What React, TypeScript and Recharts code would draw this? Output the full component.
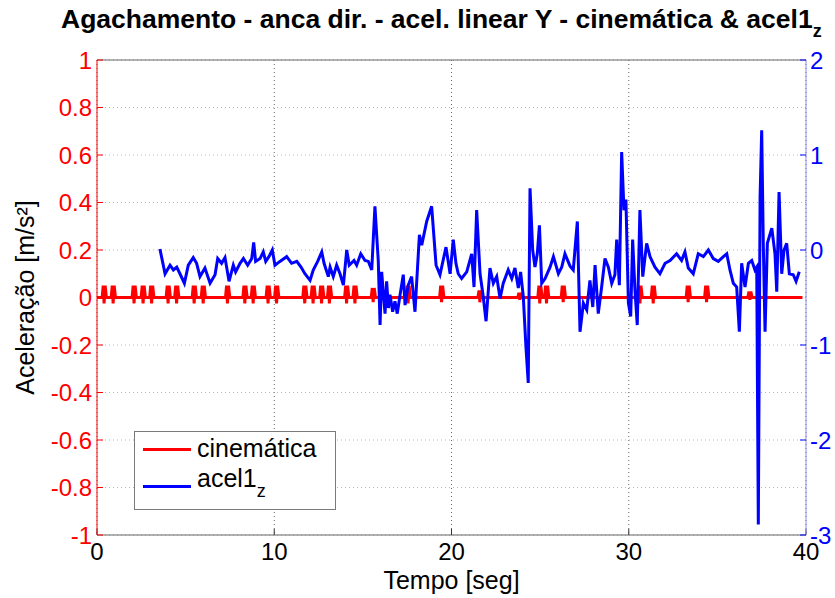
import { CartesianGrid, Legend, Line, LineChart, XAxis, YAxis } from 'recharts';

const FONT = '"Liberation Sans", Arial, Helvetica, sans-serif';

const xTicks = [0, 10, 20, 30, 40];
const leftTicks = [-1, -0.8, -0.6, -0.4, -0.2, 0, 0.2, 0.4, 0.6, 0.8, 1];
const rightTicks = [-3, -2, -1, 0, 1, 2];

// cinematica: flat at zero with short bursts (time, peak, dip)
const cinSpikeTime = [
  0.41, 0.92, 2.1, 2.61, 3.09, 4.02, 4.5, 5.49, 6.0, 7.37, 8.35, 8.82, 9.66, 10.14, 11.73, 12.2, 12.68, 13.12,
  14.09, 14.56, 15.59, 17.56, 19.45, 21.61, 23.86, 24.99, 25.37, 26.31, 30.64, 31.39, 33.36, 34.4, 36.84,
];
const cinSpikePeak = [
  0.05, 0.05, 0.05, 0.05, 0.05, 0.05, 0.05, 0.05, 0.05, 0.05, 0.05, 0.05, 0.05, 0.05, 0.05, 0.05, 0.05, 0.05,
  0.05, 0.05, 0.04, 0.05, 0.05, 0.03, 0.02, 0.05, 0.05, 0.05, 0.05, 0.05, 0.05, 0.05, 0.025,
];
const cinSpikeDip = [
  0.025, 0.025, 0.025, 0.025, 0.025, 0.025, 0.025, 0.025, 0.025, 0.025, 0.025, 0.025, 0.025, 0.025, 0.025, 0.025,
  0.025, 0.025, 0.025, 0.025, 0.02, 0.025, 0.02, 0.02, 0.01, 0.025, 0.025, 0.02, 0.025, 0.025, 0.02, 0.02, 0.01,
];
const cinEnd = 39.8;

// acel1z (right axis)
const accTime = [
  3.55, 3.84, 4.12, 4.31, 4.5, 4.68, 4.93, 5.15, 5.43, 5.62, 5.81, 6.09, 6.38, 6.66, 6.81, 7.03, 7.22, 7.45, 7.69,
  7.82, 8.07, 8.26, 8.5, 8.73, 8.84, 8.95, 9.2, 9.38, 9.52, 9.7, 9.89, 10.04, 10.32, 10.7, 10.98, 11.27, 11.51,
  11.73, 12.02, 12.2, 12.45, 12.68, 12.81, 13.05, 13.15, 13.33, 13.52, 13.71, 13.9, 14.09, 14.23, 14.5, 14.65,
  14.88, 15.12, 15.31, 15.5, 15.68, 15.87, 15.97, 16.06, 16.15, 16.25, 16.34, 16.44, 16.53, 16.68, 16.81, 16.94,
  17.1, 17.28, 17.38, 17.56, 17.75, 17.94, 18.19, 18.32, 18.6, 18.88, 19.13, 19.35, 19.69, 19.92, 20.1, 20.25,
  20.38, 20.57, 20.86, 21.14, 21.27, 21.42, 21.61, 21.79, 21.95, 22.17, 22.36, 22.55, 22.74, 22.92, 23.2, 23.4,
  23.58, 23.77, 23.9, 24.05, 24.2, 24.33, 24.43, 24.58, 24.71, 24.84, 24.96, 25.09, 25.28, 25.56, 25.75, 26.03,
  26.22, 26.4, 26.69, 26.87, 27.1, 27.25, 27.44, 27.63, 27.81, 27.97, 28.1, 28.28, 28.47, 28.66, 28.85, 29.04,
  29.22, 29.32, 29.47, 29.6, 29.73, 29.84, 29.98, 30.11, 30.22, 30.35, 30.48, 30.63, 30.79, 31.01, 31.2, 31.48,
  31.76, 32.05, 32.33, 32.7, 32.98, 33.17, 33.36, 33.64, 33.92, 34.21, 34.49, 34.77, 35.05, 35.34, 35.53, 35.71,
  35.9, 36.09, 36.24, 36.37, 36.56, 36.75, 36.94, 37.12, 37.22, 37.31, 37.41, 37.5, 37.59, 37.69, 37.82, 38.07,
  38.25, 38.35, 38.48, 38.63, 38.76, 38.91, 39.06, 39.28, 39.44, 39.62,
];
const accValue = [
  0.01, -0.25, -0.16, -0.21, -0.18, -0.25, -0.35, -0.16, -0.08, -0.14, -0.28, -0.19, -0.35, -0.26, -0.09, -0.14,
  -0.08, -0.33, -0.16, -0.23, -0.14, -0.09, -0.16, -0.09, 0.08, -0.12, -0.09, -0.02, -0.12, -0.07, 0.0, -0.16,
  -0.12, -0.07, -0.14, -0.12, -0.18, -0.25, -0.32, -0.21, -0.12, -0.02, -0.14, -0.28, -0.18, -0.28, -0.16, -0.25,
  -0.37, 0.0, -0.16, -0.11, -0.16, -0.04, -0.11, -0.12, -0.21, 0.46, -0.12, -0.79, -0.23, -0.44, -0.67, -0.33,
  -0.61, -0.47, -0.65, -0.54, -0.67, -0.47, -0.26, -0.58, -0.37, -0.28, -0.65, 0.16, 0.05, 0.3, 0.46, -0.16,
  -0.26, 0.03, -0.25, 0.11, -0.14, -0.25, -0.3, -0.23, -0.04, -0.39, 0.42, -0.25, -0.49, -0.75, -0.19, -0.35,
  -0.28, -0.51, -0.35, -0.21, -0.3, -0.19, -0.4, -0.23, -0.49, -1.02, -1.4, 0.65, 0.0, -0.18, -0.04, 0.26, -0.35,
  -0.3, -0.18, -0.07, -0.25, -0.18, -0.04, -0.17, -0.21, 0.3, -0.86, -0.56, -0.63, -0.32, -0.6, -0.16, -0.67,
  -0.39, -0.09, -0.18, -0.35, -0.26, 0.11, -0.37, 1.03, 0.42, 0.53, -0.56, -0.7, 0.11, -0.42, -0.79, 0.42, -0.28,
  0.07, -0.07, -0.18, -0.25, -0.14, -0.11, -0.04, -0.11, -0.02, -0.19, -0.25, -0.04, -0.07, 0.0, -0.09, -0.12,
  -0.07, -0.04, -0.21, -0.35, -0.39, -0.86, -0.14, -0.39, -0.14, -0.11, -0.21, -0.18, -2.89, 0.56, 1.26, 0.07,
  -0.86, 0.07, 0.23, -0.04, -0.44, 0.61, -0.25, 0.0, 0.07, -0.25, -0.26, -0.33, -0.23,
];

const cinData: { t: number; v: number }[] = [{ t: 0, v: 0 }];
cinSpikeTime.forEach((t, i) => {
  const h = cinSpikePeak[i];
  const d = -cinSpikeDip[i];
  cinData.push({ t: t - 0.12, v: 0 }, { t: t - 0.06, v: h }, { t: t - 0.01, v: d }, { t: t + 0.05, v: h }, { t: t + 0.12, v: 0 });
});
cinData.push({ t: cinEnd, v: 0 });

const accData = accTime.map((t, i) => ({ t, v: accValue[i] }));

const LegendBox = () => (
  <div
    style={{
      position: 'relative',
      width: 202,
      height: 79,
      boxSizing: 'border-box',
      border: '1px solid #7a7a7a',
      background: '#fff',
      fontFamily: FONT,
      fontSize: 25,
      lineHeight: '25px',
      color: '#000',
    }}
  >
    <div style={{ position: 'absolute', left: 8, top: 16, width: 48, height: 3, background: '#ff0000' }} />
    <div style={{ position: 'absolute', left: 62, top: 4, whiteSpace: 'nowrap' }}>cinemática</div>
    <div style={{ position: 'absolute', left: 8, top: 53, width: 48, height: 3, background: '#0000ff' }} />
    <div style={{ position: 'absolute', left: 62, top: 34, whiteSpace: 'nowrap' }}>
      acel1<span style={{ fontSize: 18, verticalAlign: '-10px' }}>z</span>
    </div>
  </div>
);

export default function App() {
  return (
    <div style={{ position: 'absolute', left: 0, top: 0, width: 835, height: 598, background: '#fff', fontFamily: FONT }}>
      <div
        style={{
          position: 'absolute',
          left: 61,
          top: 4,
          whiteSpace: 'nowrap',
          fontSize: 26.5,
          lineHeight: '30px',
          fontWeight: 'bold',
          color: '#000',
        }}
      >
        Agachamento - anca dir. - acel. linear Y - cinemática &amp; acel1
        <span style={{ fontSize: 18, verticalAlign: '-9px' }}>z</span>
      </div>
      <LineChart width={835} height={598} margin={{ top: 59, right: 4, bottom: 3, left: 37 }}>
        <CartesianGrid yAxisId="left" horizontal={false} stroke="#666" strokeDasharray="1 3" />
        <CartesianGrid yAxisId="left" vertical={false} stroke="#e3a3a3" strokeDasharray="1 3" />
        <XAxis
          dataKey="t"
          type="number"
          domain={[0, 40]}
          ticks={xTicks}
          height={60}
          tickSize={-6}
          tickMargin={14}
          axisLine={{ stroke: '#666' }}
          tickLine={{ stroke: '#333' }}
          tick={{ fill: '#000', fontSize: 24, fontFamily: FONT }}
          label={{ value: 'Tempo [seg]', position: 'insideBottom', offset: 6, fill: '#000', fontSize: 25, fontFamily: FONT }}
        />
        <XAxis
          xAxisId="top"
          orientation="top"
          type="number"
          domain={[0, 40]}
          ticks={xTicks}
          height={1}
          tickSize={-6}
          tickFormatter={() => ''}
          axisLine={{ stroke: '#666' }}
          tickLine={{ stroke: '#333' }}
        />
        <YAxis
          yAxisId="left"
          type="number"
          domain={[-1, 1]}
          ticks={leftTicks}
          width={60}
          tickSize={-6}
          tickMargin={11}
          tickFormatter={(v: number) => String(v)}
          axisLine={{ stroke: '#ff0000' }}
          tickLine={{ stroke: '#ff0000' }}
          tick={{ fill: '#ff0000', fontSize: 24, fontFamily: FONT }}
          label={{
            value: 'Aceleração [m/s²]',
            angle: -90,
            position: 'center',
            dx: -42,
            fill: '#000',
            fontSize: 25,
            fontFamily: FONT,
          }}
        />
        <YAxis
          yAxisId="right"
          orientation="right"
          type="number"
          domain={[-3, 2]}
          ticks={rightTicks}
          width={25}
          tickSize={-6}
          tickMargin={10}
          axisLine={{ stroke: '#8c8cf0' }}
          tickLine={{ stroke: '#0000ff' }}
          tick={{ fill: '#0000ff', fontSize: 24, fontFamily: FONT }}
        />
        <Legend
          layout="vertical"
          align="center"
          verticalAlign="middle"
          content={LegendBox}
          wrapperStyle={{ left: 134, top: 431, width: 202, height: 79 }}
        />
        <Line
          data={cinData}
          dataKey="v"
          yAxisId="left"
          type="linear"
          stroke="#ff0000"
          strokeWidth={3}
          dot={false}
          isAnimationActive={false}
        />
        <Line
          data={accData}
          dataKey="v"
          yAxisId="right"
          type="linear"
          stroke="#0000ff"
          strokeWidth={3}
          dot={false}
          isAnimationActive={false}
        />
      </LineChart>
    </div>
  );
}
